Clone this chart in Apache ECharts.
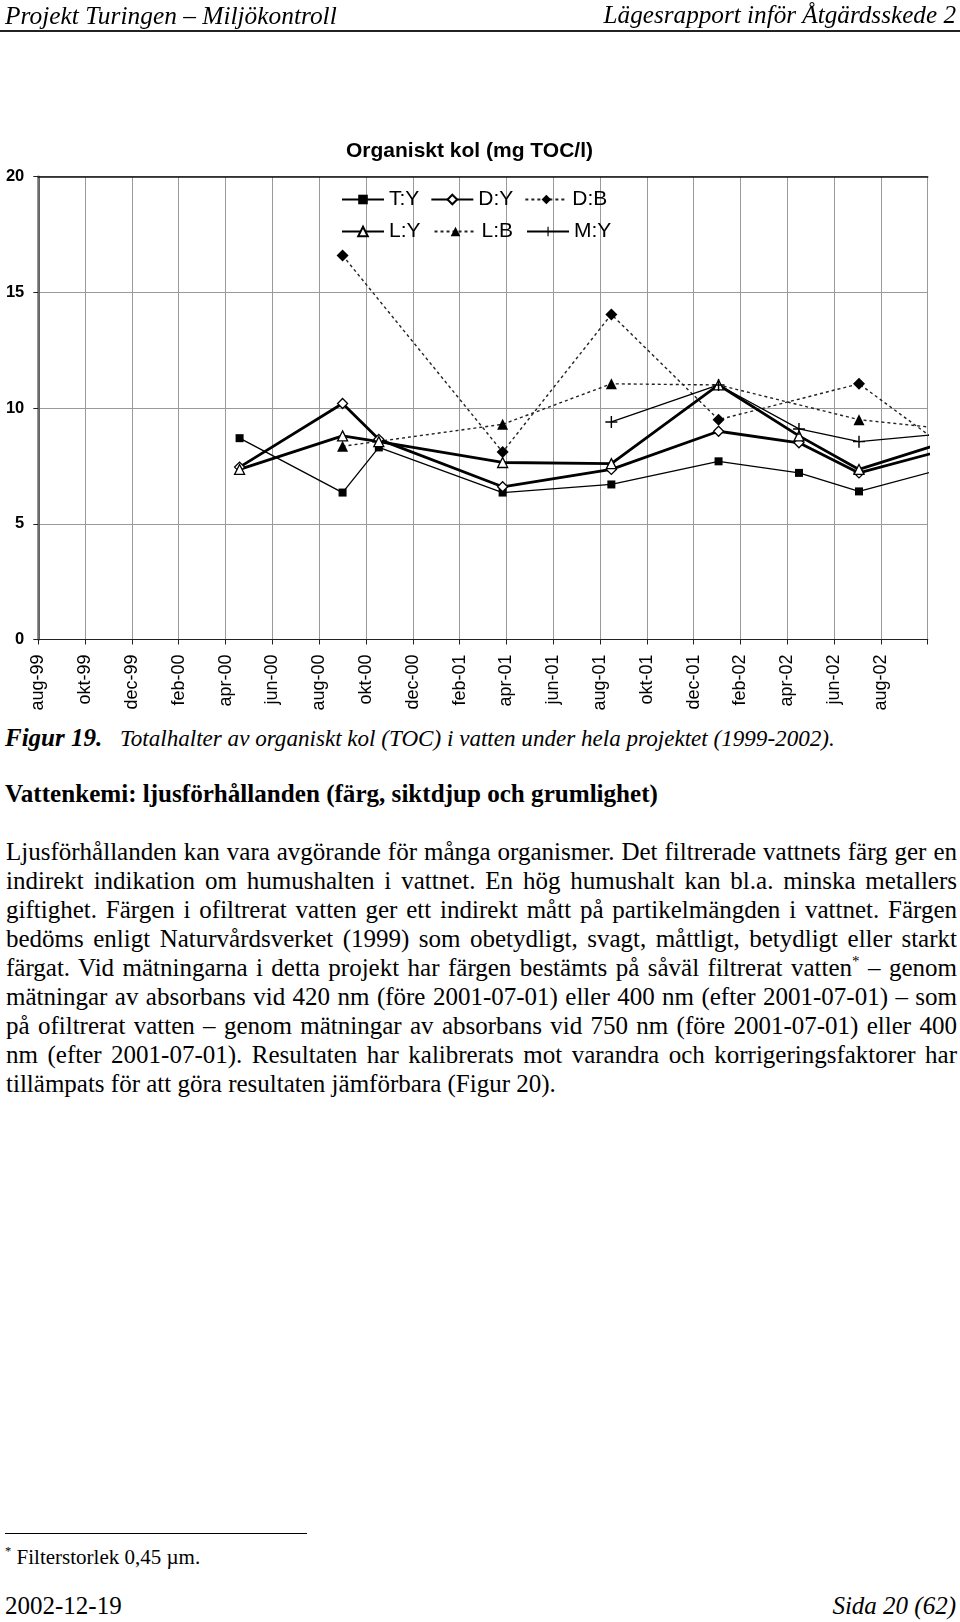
<!DOCTYPE html>
<html><head><meta charset="utf-8">
<script src="https://cdn.jsdelivr.net/npm/echarts@6/dist/echarts.min.js"></script>
<style>
body{margin:0;width:960px;height:1622px;background:#fff;position:relative;overflow:hidden;font-family:'Liberation Serif','Times New Roman',serif;color:#000}
.t{position:absolute;white-space:nowrap;line-height:30px;height:30px}
.j{position:absolute;left:6px;width:951px;line-height:30px;height:30px;text-align:justify;text-align-last:justify;font-size:25px}
.jl{text-align:left;text-align-last:left}
sup{font-size:60%;line-height:0;vertical-align:0.7em}
#chart{position:absolute;left:0;top:0;width:960px;height:720px}
</style></head>
<body>
<div id="chart"></div>
<div class="t" style="left:5px;top:0px;font-size:25.4px;font-style:italic">Projekt Turingen – Miljökontroll</div>
<div class="t" style="right:4px;top:0px;font-size:25.2px;font-style:italic">Lägesrapport inför Åtgärdsskede 2</div>
<div style="position:absolute;left:0;top:30px;width:960px;height:2px;background:#222"></div>

<div class="t" style="left:5px;top:723px;font-size:25px;font-weight:bold;font-style:italic">Figur 19.</div>
<div class="t" style="left:120px;top:723px;font-size:23.1px;font-style:italic">Totalhalter av organiskt kol (TOC) i vatten under hela projektet (1999-2002).</div>
<div class="t" style="left:5px;top:779px;font-size:25.1px;font-weight:bold">Vattenkemi: ljusförhållanden (färg, siktdjup och grumlighet)</div>

<div class="j" style="top:837px">Ljusförhållanden kan vara avgörande för många organismer. Det filtrerade vattnets färg ger en</div>
<div class="j" style="top:866px">indirekt indikation om humushalten i vattnet. En hög humushalt kan bl.a. minska metallers</div>
<div class="j" style="top:895px">giftighet. Färgen i ofiltrerat vatten ger ett indirekt mått på partikelmängden i vattnet. Färgen</div>
<div class="j" style="top:924px">bedöms enligt Naturvårdsverket (1999) som obetydligt, svagt, måttligt, betydligt eller starkt</div>
<div class="j" style="top:953px">färgat. Vid mätningarna i detta projekt har färgen bestämts på såväl filtrerat vatten<sup>*</sup> – genom</div>
<div class="j" style="top:982px">mätningar av absorbans vid 420 nm (före 2001-07-01) eller 400 nm (efter 2001-07-01) – som</div>
<div class="j" style="top:1011px">på ofiltrerat vatten – genom mätningar av absorbans vid 750 nm (före 2001-07-01) eller 400</div>
<div class="j" style="top:1040px">nm (efter 2001-07-01). Resultaten har kalibrerats mot varandra och korrigeringsfaktorer har</div>
<div class="j jl" style="top:1069px">tillämpats för att göra resultaten jämförbara (Figur 20).</div>

<div style="position:absolute;left:5px;top:1533px;width:302px;height:1px;background:#000"></div>
<div class="t" style="left:5px;top:1542px;font-size:21px"><sup>*</sup> Filterstorlek 0,45 µm.</div>
<div class="t" style="left:5px;top:1591px;font-size:25px">2002-12-19</div>
<div class="t" style="right:4px;top:1591px;font-size:25px;font-style:italic">Sida 20 (62)</div>

<script>
// ---- data ----
const monthLabels = ['aug-99','okt-99','dec-99','feb-00','apr-00','jun-00','aug-00','okt-00','dec-00','feb-01','apr-01','jun-01','aug-01','okt-01','dec-01','feb-02','apr-02','jun-02','aug-02'];
const yTicks = [0, 5, 10, 15, 20];
const sampleDates = ['2000-04-19','2000-09-01','2000-10-18','2001-03-27','2001-08-16','2002-01-03','2002-04-16','2002-07-03','2002-11-10'];
const seriesNames = ['T:Y','D:Y','D:B','L:Y','L:B','M:Y'];
const valTY = [8.7, 6.35, 8.3, 6.35, 6.7, 7.7, 7.2, 6.4, 7.55];
const valDY = [7.45, 10.2, 8.65, 6.6, 7.35, 9.0, 8.5, 7.2, 8.35];
const valDB = [null, 16.6, null, 8.1, 14.05, 9.5, null, 11.05, 7.9];
const valLY = [7.35, 8.8, 8.55, 7.65, 7.6, 11.0, 8.8, 7.35, 8.7];
const valLB = [null, 8.35, null, 9.3, 11.05, 11.0, null, 9.5, 9.05];
const valMY = [null, null, null, null, 9.4, 11.0, 9.1, 8.55, 8.95];

// months since aug-99
function monthIndex(s){
  const p = s.split('-').map(Number);
  const dim = new Date(p[0], p[1], 0).getDate();
  return (p[0]-1999)*12 + (p[1]-8) + (p[2]-1)/dim;
}
function pairs(vals){
  const out = [];
  vals.forEach((v,i)=>{ if(v!==null) out.push([monthIndex(sampleDates[i]), v]); });
  return out;
}

const FONT = "'Liberation Sans', Arial, sans-serif";
const plusPath = 'path://M4.4,0H5.6V4.4H10V5.6H5.6V10H4.4V5.6H0V4.4H4.4Z';
const solidThin = {color:'#000', width:1.3, type:'solid'};
const solidThick = {color:'#000', width:2.8, type:'solid'};
const dotted = {color:'#222', width:1.4, type:[3,3]};
const filled = {color:'#000', borderColor:'#000', borderWidth:0};
const open = {color:'#fff', borderColor:'#000', borderWidth:1.3};

function mk(name, vals, sym, size, line, item){
  return {name, type:'line', data:pairs(vals), symbol:sym, symbolSize:size,
    showAllSymbol:true, lineStyle:line, itemStyle:item, clip:true,
    emphasis:{disabled:true}, z:2};
}

const series = [
  mk('T:Y', valTY, 'rect', 8, solidThin, filled),
  mk('D:B', valDB, 'diamond', 12, dotted, filled),
  mk('L:B', valLB, 'triangle', 11, dotted, filled),
  mk('D:Y', valDY, 'diamond', 10, solidThick, open),
  mk('L:Y', valLY, 'triangle', 10, solidThick, open),
  mk('M:Y', valMY, plusPath, 12, solidThin, filled)
];
// hide the L:B marker that is covered in the original at the jan-02 peak
series[2].data = series[2].data.map((d,i)=> i===3 ? {value:d, symbol:'none'} : d);

const legendText = {fontSize:21, fontFamily:FONT, color:'#000'};

const chart = echarts.init(document.getElementById('chart'), null, {renderer:'canvas'});
chart.setOption({
  animation:false,
  backgroundColor:'#fff',
  title:{text:'Organiskt kol (mg TOC/l)', left:346, top:141, padding:0,
    textStyle:{fontSize:21, fontWeight:'bold', fontFamily:FONT, color:'#000'}},
  legend:[
    {data:['T:Y','D:Y','D:B'], left:341, top:189, padding:0, orient:'horizontal', itemWidth:42, itemHeight:12, itemGap:11,
     textStyle:legendText, selectedMode:false},
    {data:['L:Y','L:B','M:Y'], left:341, top:221, padding:0, orient:'horizontal', itemWidth:42, itemHeight:12, itemGap:13,
     textStyle:legendText, selectedMode:false}
  ],
  grid:{left:38.3, right:32.3, top:176.7, bottom:80.5, containLabel:false},
  xAxis:[
    {type:'value', min:0, max:38, interval:2, position:'bottom',
     axisLine:{show:true, onZero:false, lineStyle:{color:'#222', width:1.2}},
     axisTick:{show:true, length:5, lineStyle:{color:'#222'}},
     axisLabel:{rotate:90, margin:15, fontSize:18, fontFamily:FONT, color:'#000',
       showMaxLabel:true, formatter:v=> monthLabels[Math.round(v/2)] || ''},
     splitLine:{show:true, lineStyle:{color:'#9a9a9a', width:1}}},
    {type:'value', min:0, max:38, interval:2, position:'top',
     axisLine:{show:true, onZero:false, lineStyle:{color:'#111', width:1.6}},
     axisTick:{show:false}, axisLabel:{show:false}, splitLine:{show:false}}
  ],
  yAxis:[
    {type:'value', min:yTicks[0], max:yTicks[yTicks.length-1], interval:yTicks[1]-yTicks[0],
     axisLine:{show:true, lineStyle:{color:'#111', width:1.6}},
     axisTick:{show:true, length:5, lineStyle:{color:'#222'}},
     axisLabel:{fontSize:16.5, fontWeight:'bold', fontFamily:FONT, color:'#000', margin:14},
     splitLine:{show:true, lineStyle:{color:'#9a9a9a', width:1}}},
    {type:'value', min:0, max:20, interval:5, position:'right',
     axisLine:{show:true, lineStyle:{color:'#707070', width:2.5}},
     axisTick:{show:false}, axisLabel:{show:false}, splitLine:{show:false}}
  ],
  series: series
});
</script>
</body></html>
